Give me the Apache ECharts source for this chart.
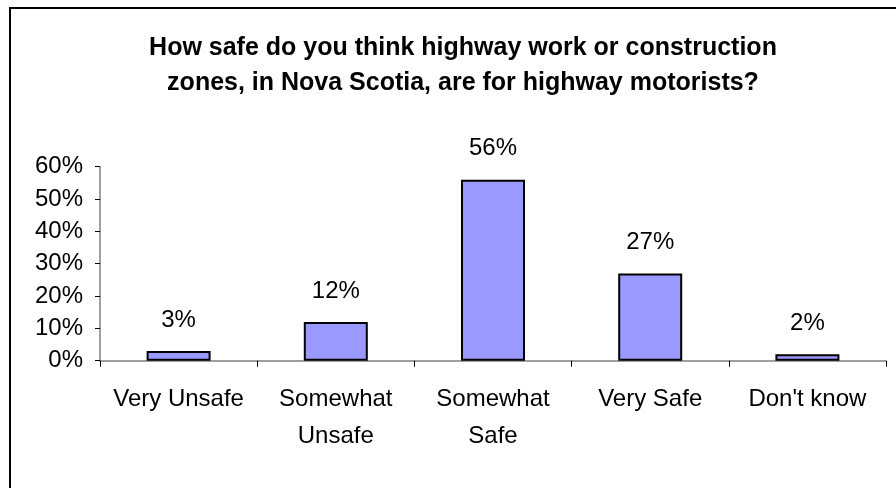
<!DOCTYPE html>
<html>
<head>
<meta charset="utf-8">
<script src="https://cdn.jsdelivr.net/npm/echarts@6/dist/echarts.min.js"></script>
<style>
html,body{margin:0;padding:0;background:#fff;overflow:hidden;}
#wrap{position:relative;width:896px;height:488px;overflow:hidden;}
#frame{position:absolute;left:9px;top:7px;width:1000px;height:1000px;border-left:2px solid #000;border-top:2px solid #000;box-sizing:border-box;}
#chart{position:absolute;left:0;top:0;width:896px;height:488px;}
</style>
</head>
<body>
<div id="wrap"><div id="frame"></div><div id="chart"></div></div>
<script>
const titleLines = ['How safe do you think highway work or construction', 'zones, in Nova Scotia, are for highway motorists?'];
const categories = ['Very Unsafe', 'Somewhat\nUnsafe', 'Somewhat\nSafe', 'Very Safe', "Don't know"];
const values = [3, 12, 56, 27, 2];
const yTicks = [0, 10, 20, 30, 40, 50, 60];

const FONT = '"Liberation Sans", Arial, sans-serif';
const chart = echarts.init(document.getElementById('chart'), null, {renderer: 'canvas'});
chart.setOption({
  backgroundColor: 'transparent',
  animation: false,
  title: {
    text: titleLines.join('\n'),
    left: 458,
    top: 26,
    textAlign: 'center',
    textStyle: {fontFamily: FONT, fontWeight: 'bold', fontSize: 25, lineHeight: 35, color: '#000'}
  },
  grid: {left: 100, right: 10, top: 166.7, bottom: 127.3, containLabel: false},
  xAxis: {
    type: 'category',
    data: categories,
    axisLine: {lineStyle: {color: '#808080', width: 1.5}},
    axisTick: {show: true, length: 6, lineStyle: {color: '#000', width: 1}},
    axisLabel: {fontFamily: FONT, fontSize: 24, color: '#000', lineHeight: 37, margin: 20, interval: 0}
  },
  yAxis: {
    type: 'value',
    min: yTicks[0],
    max: yTicks[yTicks.length - 1],
    interval: 10,
    splitLine: {show: false},
    axisLine: {show: true, lineStyle: {color: '#808080', width: 1.5}},
    axisTick: {show: true, length: 5, lineStyle: {color: '#000', width: 1}},
    axisLabel: {fontFamily: FONT, fontSize: 24, color: '#000', margin: 17, formatter: v => v + '%'}
  },
  series: [{
    type: 'bar',
    data: values,
    barWidth: 64,
    itemStyle: {color: '#9999FF', borderColor: '#000', borderWidth: 2},
    label: {show: true, position: 'top', distance: 19, fontFamily: FONT, fontSize: 24, color: '#000', formatter: p => p.value + '%'}
  }]
});
</script>
</body>
</html>
